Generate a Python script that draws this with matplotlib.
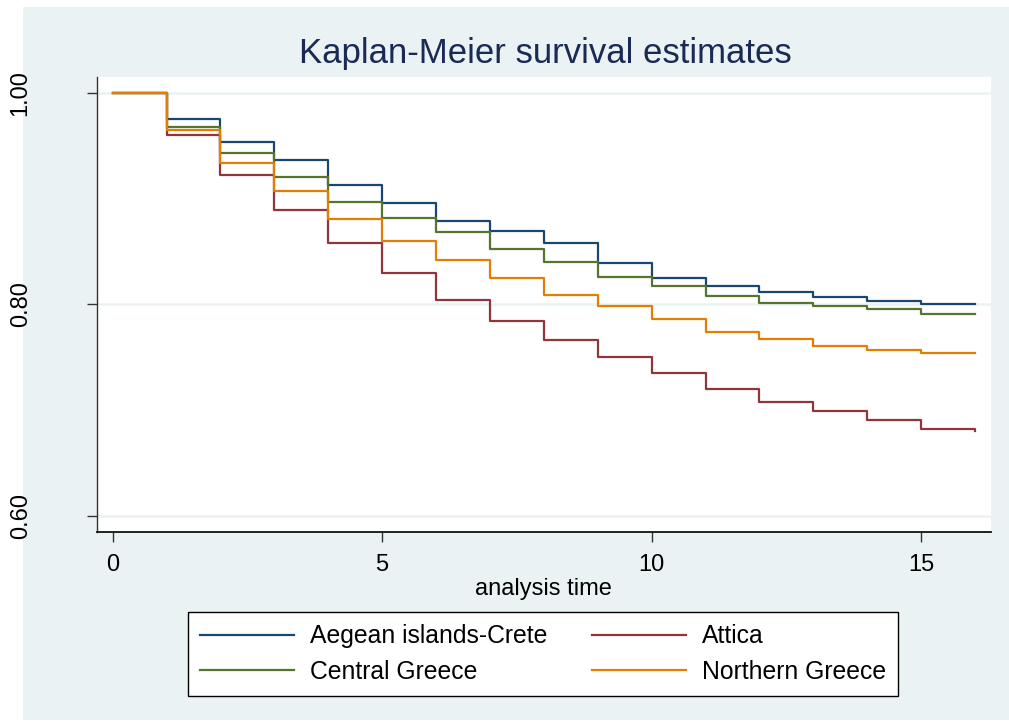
import matplotlib
matplotlib.use('Agg')
import matplotlib.pyplot as plt
from matplotlib.patches import Rectangle

plt.rcParams['font.family'] = ['Liberation Sans', 'DejaVu Sans']

# analysis time (years) and Kaplan-Meier estimates per region
times = list(range(0, 17))
aegean = [1.0, 0.975, 0.953, 0.936, 0.913, 0.896, 0.879, 0.869, 0.858,
          0.839, 0.825, 0.817, 0.812, 0.807, 0.803, 0.800, 0.800]
attica = [1.0, 0.960, 0.922, 0.889, 0.858, 0.830, 0.804, 0.784, 0.766,
          0.750, 0.735, 0.720, 0.708, 0.699, 0.691, 0.682, 0.680]
central = [1.0, 0.968, 0.943, 0.920, 0.897, 0.882, 0.868, 0.852, 0.840,
           0.826, 0.817, 0.808, 0.801, 0.798, 0.796, 0.791, 0.791]
northern = [1.0, 0.965, 0.934, 0.907, 0.881, 0.860, 0.842, 0.825, 0.809,
            0.798, 0.786, 0.774, 0.767, 0.761, 0.757, 0.754, 0.754]

xticks = [0, 5, 10, 15]
yticks = [0.60, 0.80, 1.00]
ylabels = ['0.60', '0.80', '1.00']

W, H = 1009, 723
BG = '#EAF2F3'

fig = plt.figure(figsize=(W / 100, H / 100), dpi=100)
fig.patch.set_facecolor('white')
fig.patches.append(Rectangle((23 / W, 3 / H), (W - 23) / W, (716 - 3) / H,
                             transform=fig.transFigure, facecolor=BG,
                             edgecolor='none', zorder=-5))

ax = fig.add_axes([97 / W, (H - 532) / H, (990.7 - 97) / W, (532 - 77) / H])
ax.set_facecolor('white')

for y in yticks:
    ax.axhline(y, color=BG, lw=1.8, zorder=1)

l1, = ax.step(times, aegean, where='post', color='#1A476F', lw=1.6, zorder=3)
l2, = ax.step(times, attica, where='post', color='#90353B', lw=1.6, zorder=3)
l3, = ax.step(times, central, where='post', color='#55752F', lw=1.6, zorder=3)
l4, = ax.step(times, northern, where='post', color='#E37E00', lw=1.6, zorder=3)

ax.set_xlim(-0.29, 16.29)
ax.set_ylim(0.5849, 1.0148)

ax.spines['top'].set_visible(False)
ax.spines['right'].set_visible(False)
ax.spines['left'].set_color('#333333')
ax.spines['bottom'].set_color('#111111')
ax.spines['left'].set_linewidth(1.0)
ax.spines['bottom'].set_linewidth(1.3)

ax.set_xticks(xticks)
ax.set_yticks(yticks)
ax.set_yticklabels(ylabels, rotation=90, va='center')
ax.tick_params(axis='both', direction='out', length=7, width=1,
               colors='#333333', labelcolor='black', labelsize=17)
ax.tick_params(axis='y', pad=40)
ax.tick_params(axis='x', pad=9)

ax.set_xlabel('analysis time', fontsize=17, labelpad=1)

fig.text(545 / W, 1 - 54 / H, 'Kaplan-Meier survival estimates',
         fontsize=25, color='#1A2A55', ha='center', va='center')

leg = fig.legend([l1, l3, l2, l4],
                 ['Aegean islands-Crete', 'Central Greece', 'Attica', 'Northern Greece'],
                 ncol=2, loc='center',
                 bbox_to_anchor=((184 + 902) / 2 / W, 1 - (613 + 695) / 2 / H),
                 fontsize=17.8, frameon=True, fancybox=False, framealpha=1,
                 edgecolor='black', handlelength=3.8, handletextpad=0.65,
                 columnspacing=1.8, labelspacing=0.45, borderpad=0.5)
leg.get_frame().set_linewidth(1.0)

fig.savefig('out.png', dpi=100)
